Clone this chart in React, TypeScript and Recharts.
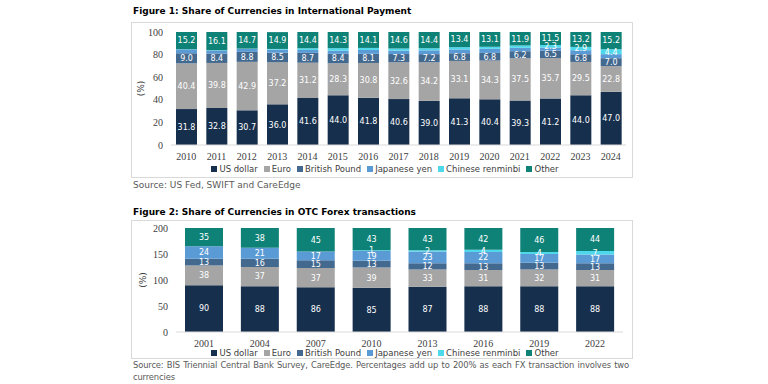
import React from "react";
import { Bar, BarChart, LabelList, Legend, XAxis, YAxis } from "recharts";

// Figure 1 – share of currencies in international payments (%)
const years1 = ["2010", "2011", "2012", "2013", "2014", "2015", "2016", "2017", "2018", "2019", "2020", "2021", "2022", "2023", "2024"];
const usd1 = [31.8, 32.8, 30.7, 36.0, 41.6, 44.0, 41.8, 40.6, 39.0, 41.3, 40.4, 39.3, 41.2, 44.0, 47.0];
const eur1 = [40.4, 39.8, 42.9, 37.2, 31.2, 28.3, 30.8, 32.6, 34.2, 33.1, 34.3, 37.5, 35.7, 29.5, 22.8];
const gbp1 = [9.0, 8.4, 8.8, 8.5, 8.7, 8.4, 8.1, 7.3, 7.2, 6.8, 6.8, 6.2, 6.5, 6.8, 7.0];
const jpy1 = [3.4, 2.6, 2.6, 2.7, 2.6, 2.8, 3.4, 3.0, 3.4, 3.4, 3.6, 3.0, 2.8, 3.6, 3.6];
const cny1 = [0.2, 0.3, 0.3, 0.6, 1.5, 2.2, 1.8, 1.9, 1.8, 2.0, 1.8, 2.1, 2.3, 2.9, 4.4];
const oth1 = [15.2, 16.1, 14.7, 14.9, 14.4, 14.3, 14.1, 14.6, 14.4, 13.4, 13.1, 11.9, 11.5, 13.2, 15.2];
const cnyLabelYears1 = ["2022", "2023", "2024"];
const ticks1 = [0, 20, 40, 60, 80, 100];

// Figure 2 – share of currencies in OTC forex turnover (sums to 200%)
const years2 = ["2001", "2004", "2007", "2010", "2013", "2016", "2019", "2022"];
const usd2 = [90, 88, 86, 85, 87, 88, 88, 88];
const eur2 = [38, 37, 37, 39, 33, 31, 32, 31];
const gbp2 = [13, 16, 15, 13, 12, 13, 13, 13];
const jpy2 = [24, 21, 17, 19, 23, 22, 17, 17];
const cny2 = [0, 0, 0, 1, 2, 4, 4, 7];
const oth2 = [35, 38, 45, 43, 43, 42, 46, 44];
const ticks2 = [0, 50, 100, 150, 200];

const series = [
  { key: "usd", name: "US dollar", color: "#162f4d" },
  { key: "eur", name: "Euro", color: "#a5a5a5" },
  { key: "gbp", name: "British Pound", color: "#44698f" },
  { key: "jpy", name: "Japanese yen", color: "#5b9bd5" },
  { key: "cny", name: "Chinese renminbi", color: "#4fd8eb" },
  { key: "oth", name: "Other", color: "#0f8277" }
];

const data1 = years1.map((year, i) => ({
  year,
  usd: usd1[i],
  eur: eur1[i],
  gbp: gbp1[i],
  jpy: jpy1[i],
  cny: cny1[i],
  oth: oth1[i],
  cnyLabel: cnyLabelYears1.includes(year) ? cny1[i] : null
}));

const data2 = years2.map((year, i) => ({
  year,
  usd: usd2[i],
  eur: eur2[i],
  gbp: gbp2[i],
  jpy: jpy2[i],
  cny: cny2[i],
  oth: oth2[i],
  cnyLabel: cny2[i] > 0 ? cny2[i] : null
}));

const sans = 'Tahoma, "DejaVu Sans", sans-serif';
const serif = '"Liberation Serif", "DejaVu Serif", serif';

const labelStyle = { fill: "#fff", fontSize: 8, fontFamily: sans };

function LegendRow() {
  return (
    <div style={{ display: "flex", justifyContent: "center", fontFamily: sans, fontSize: 8.5, color: "#404040", lineHeight: "10px", paddingLeft: 12 }}>
      {series.map((s) => (
        <span key={s.key} style={{ display: "flex", alignItems: "center", marginRight: 6 }}>
          <span style={{ width: 6, height: 6, background: s.color, marginRight: 2, display: "inline-block" }} />
          {s.name}
        </span>
      ))}
    </div>
  );
}

function renderBars(labelYen: boolean, decimals: number) {
  const fmt = (v: any) => (v == null ? "" : Number(v).toFixed(decimals));
  return series.map((s) => (
    <Bar key={s.key} dataKey={s.key} name={s.name} stackId="a" fill={s.color} isAnimationActive={false}>
      {s.key === "cny" ? (
        <LabelList dataKey="cnyLabel" position="center" style={labelStyle} formatter={fmt} />
      ) : s.key === "jpy" && !labelYen ? null : (
        <LabelList dataKey={s.key} position="center" style={labelStyle} formatter={fmt} />
      )}
    </Bar>
  ));
}

const boxStyle: React.CSSProperties = {
  position: "absolute",
  left: 131,
  width: 502,
  border: "1px solid #d9d9d9",
  boxSizing: "border-box"
};

export default function App() {
  return (
    <div style={{ position: "absolute", left: 0, top: 0, width: 768, height: 384, background: "#fff", overflow: "hidden" }}>
      <div style={{ position: "absolute", left: 133, top: 6, fontFamily: sans, fontWeight: "bold", fontSize: 9, color: "#000" }}>
        Figure 1: Share of Currencies in International Payment
      </div>
      <div style={{ ...boxStyle, top: 22, height: 156 }}>
        <BarChart width={500} height={154} data={data1} margin={{ top: 9, right: 6, bottom: 2, left: 0 }} barSize={21}>
          <XAxis dataKey="year" axisLine={{ stroke: "#d9d9d9" }} tickLine={false} height={30} interval={0}
            tick={{ fontSize: 10, fontFamily: serif, fill: "#404040" }} />
          <YAxis domain={[0, 100]} ticks={ticks1} width={39} axisLine={false} tickLine={false}
            tick={{ fontSize: 10, fontFamily: serif, fill: "#404040" }}
            label={{ value: "(%)", angle: -90, position: "center", dx: -11, style: { fontSize: 9, fontFamily: sans, fill: "#404040" } }} />
          <Legend verticalAlign="middle" content={() => <LegendRow />} wrapperStyle={{ top: 141, left: 0, width: 500 }} />
          {renderBars(false, 1)}
        </BarChart>
      </div>
      <div style={{ position: "absolute", left: 133, top: 180, fontFamily: sans, fontSize: 9, color: "#595959" }}>
        Source: US Fed, SWIFT and CareEdge
      </div>

      <div style={{ position: "absolute", left: 133, top: 207, fontFamily: sans, fontWeight: "bold", fontSize: 9, color: "#000" }}>
        Figure 2: Share of Currencies in OTC Forex transactions
      </div>
      <div style={{ ...boxStyle, top: 220, height: 139 }}>
        <BarChart width={500} height={137} data={data2} margin={{ top: 7, right: 9, bottom: 2, left: 0 }} barSize={38}>
          <XAxis dataKey="year" axisLine={{ stroke: "#d9d9d9" }} tickLine={false} height={24} interval={0}
            tick={{ fontSize: 10, fontFamily: serif, fill: "#404040" }} />
          <YAxis domain={[0, 200]} ticks={ticks2} width={44} axisLine={false} tickLine={false}
            tick={{ fontSize: 10, fontFamily: serif, fill: "#404040" }}
            label={{ value: "(%)", angle: -90, position: "center", dx: -11, style: { fontSize: 9, fontFamily: sans, fill: "#404040" } }} />
          <Legend verticalAlign="middle" content={() => <LegendRow />} wrapperStyle={{ top: 127, left: 0, width: 500 }} />
          {renderBars(true, 0)}
        </BarChart>
      </div>
      <div style={{ position: "absolute", left: 133, top: 359, width: 496, fontFamily: sans, fontSize: 8.4, letterSpacing: -0.15, color: "#595959", textAlign: "justify", lineHeight: "12px" }}>
        Source: BIS Triennial Central Bank Survey, CareEdge. Percentages add up to 200% as each FX transaction involves two currencies
      </div>
    </div>
  );
}
